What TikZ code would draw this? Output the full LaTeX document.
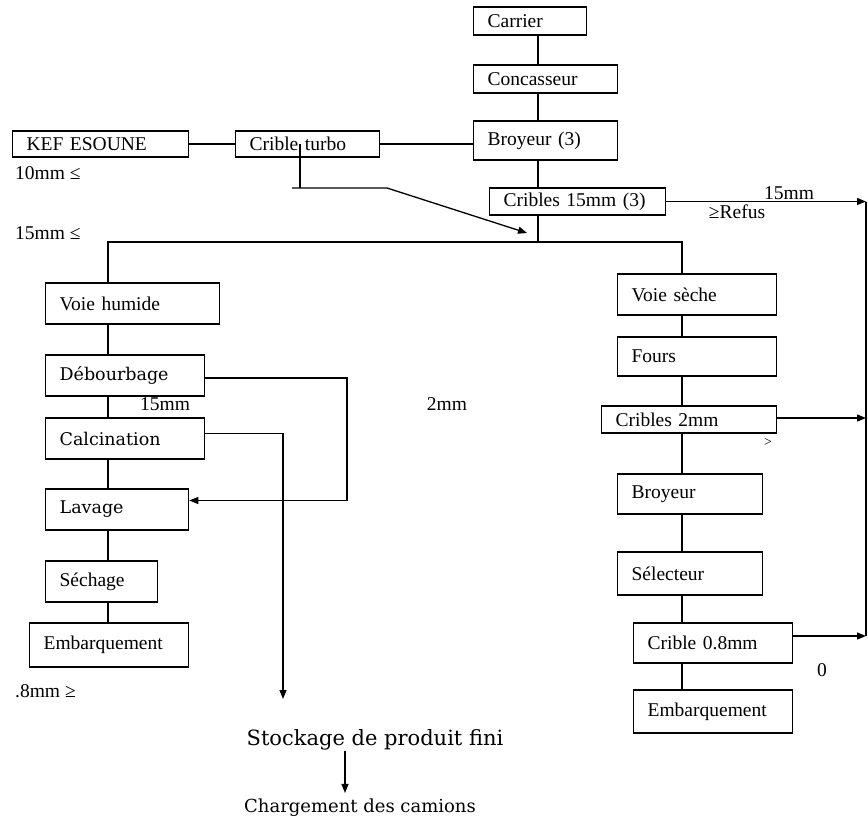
\documentclass[tikz,border=0pt]{standalone}
\usepackage{fontspec}
\setmainfont{Liberation Serif}
\newfontfamily\cambria{DejaVu Serif}
\usepackage{tikz}
\usetikzlibrary{arrows.meta}

\begin{document}
\begin{tikzpicture}[x=1pt, y=-1pt,
  trait/.style={line width=1.3pt},
  boite/.style={draw, trait, inner xsep=14pt, inner ysep=0pt, align=left, anchor=west,
    font=\fontsize{19.5}{21}\selectfont},
  boitec/.style={boite, font=\cambria\fontsize{17.5}{20}\selectfont},
  etiq/.style={font=\fontsize{19.5}{21}\selectfont, inner sep=0pt},
  fleche/.style={trait, -{Triangle[length=9pt,width=7pt]}}]
\useasboundingbox (0,0) rectangle (868,823);
% Boxes: name / left / top / right / bottom / text
\foreach \nom/\xa/\ya/\xb/\yb/\etiq in {carrier/473/7/586/35/Carrier, concasseur/473/65/617/93/Concasseur,
  broyeurA/473/121/617/160/Broyeur (3), kef/12/131/188/157/KEF ESOUNE, turbo/235/131/379/157/Crible turbo,
  criblesA/489/188/665/215/Cribles 15mm (3), vhumide/45/283/219/324/Voie humide,
  sechage/45/561/157/602/Séchage, embarqG/29/623/188/667/Embarquement,
  vseche/617/274/776/315/Voie sèche, fours/617/337/776/376/Fours, criblesB/601/406/776/433/Cribles 2mm,
  broyeurB/617/474/762/514/Broyeur, selecteur/617/552/762/595/Sélecteur,
  cribleC/633/623/792/663/Crible 0.8mm, embarqD/633/690/792/733/Embarquement} {
  \pgfmathsetmacro{\larg}{\xb-\xa-28} \pgfmathsetmacro{\haut}{\yb-\ya}
  \node[boite, text width=\larg pt, minimum height=\haut pt] (\nom) at (\xa,{(\ya+\yb)/2}) {\etiq};
}
% Wet route boxes (heavier face)
\foreach \nom/\xa/\ya/\xb/\yb/\etiq in {debourbage/45/355/204/396/Débourbage,
  calcination/45/418/204/459/Calcination, lavage/45/489/188/530/Lavage} {
  \pgfmathsetmacro{\larg}{\xb-\xa-28} \pgfmathsetmacro{\haut}{\yb-\ya}
  \node[boitec, text width=\larg pt, minimum height=\haut pt] (\nom) at (\xa,{(\ya+\yb)/2}) {\etiq};
}
% Axes and bends
\coordinate (axeH) at (538,0);
\coordinate (axeG) at (108,0);
\coordinate (axeD) at (682,0);
\coordinate (droite) at (866,0);
\coordinate (jonc) at (538,242);
\coordinate (tcoude) at (300,188);
\coordinate (tg) at (292,188);
\coordinate (td) at (387,188);
\coordinate (tfin) at (527,233);
\coordinate (retour) at (347,0);
\coordinate (descente) at (283,699);
% Main line
\foreach \a/\b in {carrier/concasseur, concasseur/broyeurA, broyeurA/criblesA}
  \draw[trait] (\a.south -| axeH) -- (\b.north -| axeH);
\draw[trait] (kef.east) -- (turbo.west);
\draw[trait] (turbo.east) -- (turbo.east -| broyeurA.west);
\draw[trait] (turbo.center -| tcoude) -- (tcoude);
\draw[fleche] (tg) -- (td) -- (tfin);
\draw[trait] (criblesA.south -| axeH) -- (jonc);
\draw[trait] (vhumide.north -| axeG) -- (axeG |- jonc) -- (axeD |- jonc) -- (vseche.north -| axeD);
\draw[fleche] (criblesA.east) -- (criblesA.east -| droite);
% Wet route
\foreach \a/\b in {vhumide/debourbage, debourbage/calcination, calcination/lavage, lavage/sechage, sechage/embarqG}
  \draw[trait] (\a.south -| axeG) -- (\b.north -| axeG);
\draw[fleche] ([yshift=-2.5pt]debourbage.east) -| ([yshift=9pt]lavage.east -| retour) -- ([yshift=9pt]lavage.east);
\draw[fleche] ([yshift=5pt]calcination.east) -| (descente);
% Dry route
\foreach \a/\b in {vseche/fours, fours/criblesB, criblesB/broyeurB, broyeurB/selecteur, selecteur/cribleC, cribleC/embarqD}
  \draw[trait] (\a.south -| axeD) -- (\b.north -| axeD);
\draw[fleche] ([yshift=1.5pt]criblesB.east) -- ([yshift=1.5pt]criblesB.east -| droite);
\draw[fleche] ([yshift=7pt]cribleC.east) -- ([yshift=7pt]cribleC.east -| droite);
\draw[trait] (criblesA.east -| droite) -- ([yshift=7pt]cribleC.east -| droite);
% Sizes
\node[etiq, anchor=west] (l10) at (15,173) {10mm ≤};
\node[etiq, anchor=west] (l15) at (15,233) {15mm ≤};
\node[etiq, anchor=west] (l08) at (15,691) {.8mm ≥};
\node[etiq] (l15b) at (165,404) {15mm};
\node[etiq] (l2) at (447,404) {2mm};
\node[etiq] (l15c) at (789,193) {15mm};
\node[etiq] (refus) at (737,212) {≥Refus};
\node[etiq, font=\fontsize{14}{15}\selectfont] (sup) at (768,442) {>};
\node[etiq] (zero) at (822,670) {0};
% Final products
\node[font=\cambria\fontsize{21}{24}\selectfont, inner sep=0pt] (stockage) at (375,740) {Stockage de produit fini};
\node[font=\cambria\fontsize{18}{21}\selectfont, inner sep=0pt] (chargement) at (360,808) {Chargement des camions};
\draw[fleche] (stockage.south -| 345,0) -- ([yshift=6pt]chargement.north -| 345,0);
\end{tikzpicture}
\end{document}
